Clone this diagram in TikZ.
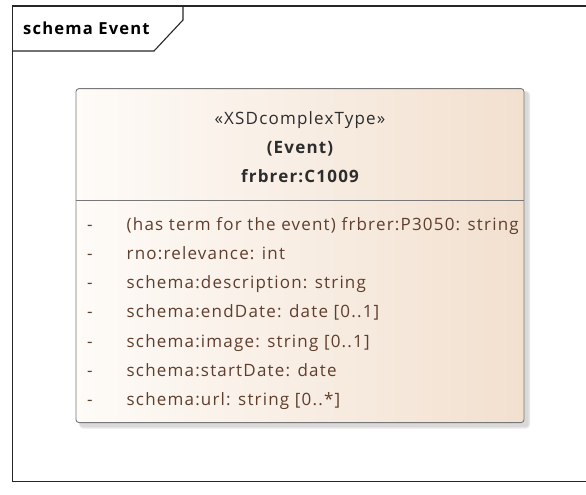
\documentclass[tikz,border=0pt]{standalone}
\usepackage{fontspec}
\setmainfont{Open Sans}[LetterSpace=7]
\usetikzlibrary{calc}
\definecolor{frameline}{RGB}{38,38,38}
\definecolor{boxline}{RGB}{120,120,120}
\definecolor{boxleft}{RGB}{254,251,248}
\definecolor{boxright}{RGB}{242,224,207}
\definecolor{headtext}{RGB}{45,45,45}
\definecolor{attrtext}{RGB}{95,62,45}

\tikzset{
  classbox/.style={draw=boxline, line width=.9pt, rounded corners=3pt,
    left color=boxleft, right color=boxright},
  headline/.style={font=\fontsize{17}{20}\selectfont, text=headtext, anchor=base},
  attrline/.style={font=\fontsize{17}{20}\selectfont, text=attrtext, anchor=base west, inner sep=0},
}

\begin{document}
\begin{tikzpicture}[x=1pt,y=-1pt]
\useasboundingbox (0,0) rectangle (586,495);
\clip (0,0) rectangle (586,495);
% package frame and its tab
\draw[frameline, line width=1.5pt] (600,6) -- (12.5,6) -- (12.5,481.5) -- (600,481.5);
\draw[frameline, line width=1.1pt] (183,6) -- (183,20) -- (154,51) -- (12.5,51);
\node[anchor=base west, inner sep=0, font=\fontsize{16.6}{20}\selectfont\bfseries] (pkgname) at (23,34.3) {schema Event};
% shadow, then the class
\fill[gray!18, rounded corners=4pt] (79,91) rectangle (530,428.5);
\fill[gray!30, rounded corners=3pt] (80,92) rectangle (528.5,427);
\node[classbox, minimum width=448pt, minimum height=334pt, inner sep=0] (event) at (300,255.6) {};
\draw[boxline, line width=.9pt] (event.west |- 0,200) -- (event.east |- 0,200);
\node[headline] (stereo) at (300,124) {«XSDcomplexType»};
\node[headline, font=\fontsize{17}{20}\selectfont\bfseries] (alias) at (300,153.5) {(Event)};
\node[headline, font=\fontsize{17}{20}\selectfont\bfseries] (cname) at (300,182) {frbrer:C1009};
% attributes
\foreach \t [count=\i] in {{(has term for the event) frbrer:P3050: string},
  {rno:relevance: int}, {schema:description: string}, {schema:endDate: date [0..1]},
  {schema:image: string [0..1]}, {schema:startDate: date}, {schema:url: string [0..*]}} {
 \node[attrline] (dash\i) at (87,201+29.2*\i) {-};
 \node[attrline] (attr\i) at (126.5,201+29.2*\i) {\t};
}
\end{tikzpicture}
\end{document}
